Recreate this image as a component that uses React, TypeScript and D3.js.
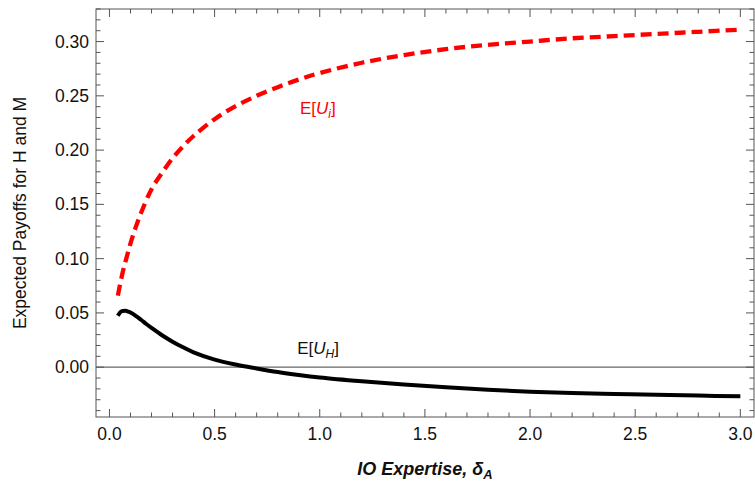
import * as d3 from "d3";

const xs = [0.04, 0.06, 0.08, 0.1, 0.125, 0.15, 0.2, 0.25, 0.3, 0.35, 0.4, 0.5, 0.6, 0.7, 0.8, 0.9, 1.0, 1.2, 1.4, 1.6, 1.8, 2.0, 2.2, 2.4, 2.6, 2.8, 3.0];
const uI = [0.066, 0.085, 0.1, 0.114, 0.129, 0.142, 0.164, 0.179, 0.1925, 0.2035, 0.213, 0.2285, 0.2405, 0.25, 0.258, 0.265, 0.271, 0.2805, 0.2875, 0.293, 0.297, 0.3, 0.303, 0.305, 0.307, 0.309, 0.311];
const xsH = [0.04, 0.05, 0.06, 0.075, 0.09, 0.1, 0.125, 0.15, 0.175, 0.2, 0.25, 0.3, 0.35, 0.4, 0.5, 0.6, 0.7, 0.8, 0.9, 1.0, 1.2, 1.4, 1.6, 1.8, 2.0, 2.2, 2.4, 2.6, 2.8, 3.0];
const uH = [0.0474, 0.0503, 0.0516, 0.052, 0.0512, 0.0503, 0.0473, 0.0437, 0.0398, 0.0362, 0.0294, 0.0235, 0.0183, 0.0137, 0.007, 0.0024, -0.0012, -0.0045, -0.0072, -0.0095, -0.013, -0.016, -0.0186, -0.0208, -0.0226, -0.0238, -0.0247, -0.0255, -0.0262, -0.0268];

const xMajor = [0, 0.5, 1, 1.5, 2, 2.5, 3];
const yMajor = [0, 0.05, 0.1, 0.15, 0.2, 0.25, 0.3];

const W = 755;
const H = 482;
const L = 96, R = 754, T = 9, B = 417;

const x = d3.scaleLinear().domain([-0.064, 3.065]).range([L, R]);
const y = d3.scaleLinear().domain([-0.0459, 0.33]).range([B, T]);

const xMinor = d3.range(0, 31).map((i) => i / 10).filter((v) => !xMajor.some((m) => Math.abs(m - v) < 1e-9));
const yMinor = d3.range(-4, 34).map((i) => i / 100).filter((v) => !yMajor.some((m) => Math.abs(m - v) < 1e-9));

const line = d3
  .line<[number, number]>()
  .x((d) => x(d[0]))
  .y((d) => y(d[1]))
  .curve(d3.curveCatmullRom.alpha(0.5));

const font = "Liberation Sans, Arial, sans-serif";
const frameCol = "#555";

export default function App() {
  const redPts = xs.map((v, i) => [v, uI[i]] as [number, number]);
  const blackPts = xsH.map((v, i) => [v, uH[i]] as [number, number]);
  const MAJ = 8, MIN = 4.5;

  return (
    <svg width={W} height={H} style={{ position: "absolute", left: 0, top: 0, background: "#fff" }} fontFamily={font}>
      <defs>
        <clipPath id="plot">
          <rect x={L} y={T} width={R - L} height={B - T} />
        </clipPath>
      </defs>

      {/* zero line */}
      <line x1={L} x2={R} y1={y(0)} y2={y(0)} stroke="#666" strokeWidth={1.3} />

      <g clipPath="url(#plot)" fill="none">
        <path d={line(blackPts) || ""} stroke="#000" strokeWidth={4} strokeLinejoin="round" />
        <path d={line(redPts) || ""} stroke="#ff0000" strokeWidth={4.3} strokeDasharray="11,6" />
      </g>

      {/* frame */}
      <rect x={L} y={T} width={R - L} height={B - T} fill="none" stroke={frameCol} strokeWidth={1} />

      {/* x ticks, bottom and top */}
      {xMajor.map((v) => (
        <g key={"xM" + v} stroke={frameCol}>
          <line x1={x(v)} x2={x(v)} y1={B} y2={B - MAJ} />
          <line x1={x(v)} x2={x(v)} y1={T} y2={T + MAJ} />
        </g>
      ))}
      {xMinor.map((v) => (
        <g key={"xm" + v} stroke={frameCol}>
          <line x1={x(v)} x2={x(v)} y1={B} y2={B - MIN} />
          <line x1={x(v)} x2={x(v)} y1={T} y2={T + MIN} />
        </g>
      ))}
      {/* y ticks, left and right */}
      {yMajor.map((v) => (
        <g key={"yM" + v} stroke={frameCol}>
          <line x1={L} x2={L + MAJ} y1={y(v)} y2={y(v)} />
          <line x1={R} x2={R - MAJ} y1={y(v)} y2={y(v)} />
        </g>
      ))}
      {yMinor.map((v) => (
        <g key={"ym" + v} stroke={frameCol}>
          <line x1={L} x2={L + MIN} y1={y(v)} y2={y(v)} />
          <line x1={R} x2={R - MIN} y1={y(v)} y2={y(v)} />
        </g>
      ))}

      {/* tick labels */}
      {xMajor.map((v) => (
        <text key={"xl" + v} x={x(v)} y={440} fontSize={17.5} textAnchor="middle" fill="#111">
          {d3.format(".1f")(v)}
        </text>
      ))}
      {yMajor.map((v) => (
        <text key={"yl" + v} x={89} y={y(v) + 6} fontSize={17.5} textAnchor="end" fill="#111">
          {d3.format(".2f")(v)}
        </text>
      ))}

      {/* axis titles */}
      <text transform={`translate(26,${(T + B) / 2}) rotate(-90)`} fontSize={17.5} textAnchor="middle" fill="#111">
        Expected Payoffs for H and M
      </text>
      <text x={(L + R) / 2} y={475} fontSize={18} fontWeight="bold" fontStyle="italic" textAnchor="middle" fill="#111">
        IO Expertise, δ<tspan fontSize={13} dy={4}>A</tspan>
      </text>

      {/* curve labels */}
      <text x={x(0.906)} y={y(0.233)} fontSize={17} fill="#ff0000">
        E[<tspan fontStyle="italic">U</tspan><tspan fontStyle="italic" fontSize={12} dy={4}>i</tspan><tspan dy={-4}>]</tspan>
      </text>
      <text x={x(0.893)} y={y(0.012)} fontSize={17} fill="#111">
        E[<tspan fontStyle="italic">U</tspan><tspan fontStyle="italic" fontSize={12} dy={4}>H</tspan><tspan dy={-4}>]</tspan>
      </text>
    </svg>
  );
}
